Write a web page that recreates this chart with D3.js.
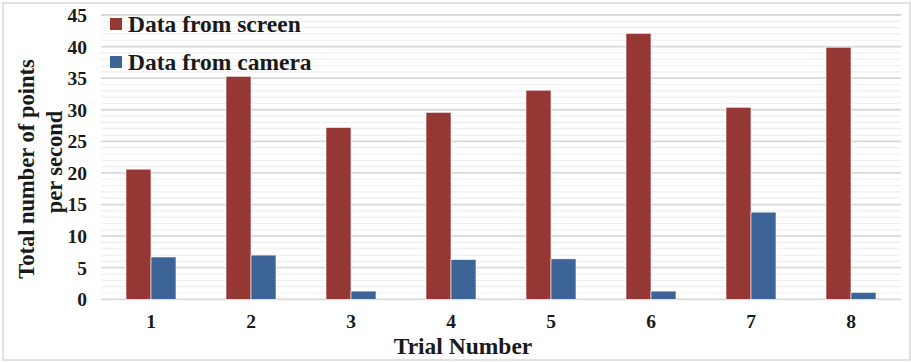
<!DOCTYPE html>
<html><head><meta charset="utf-8">
<script src="https://cdn.jsdelivr.net/npm/d3@7"></script>
<style>body{margin:0;background:#fff;} svg{display:block;}</style>
</head><body>
<script>
const categories = ["1","2","3","4","5","6","7","8"];
const screenValues = [20.6, 35.3, 27.2, 29.6, 33.1, 42.1, 30.4, 39.9];
const cameraValues = [6.7, 7.0, 1.3, 6.3, 6.4, 1.3, 13.8, 1.1];
const seriesNames = ["Data from screen", "Data from camera"];
const seriesColors = ["#953735", "#3C6497"];
const yTicks = [0,5,10,15,20,25,30,35,40,45];

(function(){
const W = 911, H = 363;
const svg = d3.select("body").append("svg").attr("width", W).attr("height", H);
const font = "'Liberation Serif','Times New Roman',serif";

svg.append("rect").attr("x",3).attr("y",3).attr("width",907).attr("height",357)
  .attr("fill","#fff").attr("stroke","#d9d9d9").attr("stroke-width",1.5);

const pLeft = 101, pRight = 901, pTop = 15, pBottom = 299.3;
const x = d3.scaleBand().domain(categories).range([pLeft, pRight]).paddingInner(0.5).paddingOuter(0.25);
const xs = d3.scaleBand().domain([0,1]).range([0, x.bandwidth()]);
const y = d3.scaleLinear().domain([0,45]).range([pBottom, pTop]);

// minor gridlines
const minor = d3.range(1,45).filter(v => v % 5 !== 0);
svg.append("g").selectAll("line").data(minor).join("line")
  .attr("x1", pLeft).attr("x2", pRight).attr("y1", d=>y(d)).attr("y2", d=>y(d))
  .attr("stroke","#efefef").attr("stroke-width",1.2);
// major gridlines
svg.append("g").selectAll("line").data(yTicks).join("line")
  .attr("x1", pLeft).attr("x2", pRight).attr("y1", d=>y(d)).attr("y2", d=>y(d))
  .attr("stroke","#d9d9d9").attr("stroke-width",1.8);

// y axis labels
const yAxis = d3.axisLeft(y).tickValues(yTicks).tickSize(0).tickPadding(0);
const gy = svg.append("g").attr("transform", `translate(87,0)`).call(yAxis);
gy.select(".domain").remove();
gy.selectAll("text").attr("font-family", font).attr("font-weight","bold")
  .attr("font-size", 19.5).attr("fill","#1a1a1a").attr("dy","0.33em");

// bars
const data = categories.map((c,i)=>({c, vals:[screenValues[i], cameraValues[i]]}));
const groups = svg.append("g").selectAll("g").data(data).join("g")
  .attr("transform", d=>`translate(${x(d.c)},0)`);
groups.selectAll("rect").data(d=>d.vals.map((v,k)=>({v,k}))).join("rect")
  .attr("x", d=>xs(d.k)).attr("width", xs.bandwidth())
  .attr("y", d=>y(d.v)).attr("height", d=>y(0)-y(d.v))
  .attr("fill", d=>seriesColors[d.k]).attr("stroke","#ffffff").attr("stroke-width",0.6);

// x axis labels
const xAxis = d3.axisBottom(x).tickSize(0).tickPadding(0);
const gx = svg.append("g").attr("transform", `translate(0,321)`).call(xAxis);
gx.select(".domain").remove();
gx.selectAll("text").attr("font-family", font).attr("font-weight","bold")
  .attr("font-size", 19.5).attr("fill","#1a1a1a").attr("dy","0.35em").attr("y",0);

// axis titles
svg.append("text").attr("x", 463).attr("y", 354).attr("text-anchor","middle")
  .attr("font-family", font).attr("font-weight","bold").attr("font-size", 23.5)
  .attr("fill","#1a1a1a").text("Trial Number");
svg.append("text").attr("transform","translate(34,169) rotate(-90)").attr("text-anchor","middle")
  .attr("font-family", font).attr("font-weight","bold").attr("font-size", 22.5)
  .attr("fill","#1a1a1a").text("Total number of points");
svg.append("text").attr("transform","translate(62,162) rotate(-90)").attr("text-anchor","middle")
  .attr("font-family", font).attr("font-weight","bold").attr("font-size", 22.5)
  .attr("fill","#1a1a1a").text("per second");

// legend
const lg = svg.append("g").selectAll("g").data(seriesNames).join("g")
  .attr("transform", (d,i)=>`translate(110,${18 + i*38})`);
lg.append("rect").attr("width",12).attr("height",12).attr("fill",(d,i)=>seriesColors[i]);
lg.append("text").attr("x",18).attr("y",13.5).attr("font-family", font).attr("font-weight","bold")
  .attr("font-size", 23.5).attr("fill","#1a1a1a").text(d=>d);
})();
</script>
</body></html>
